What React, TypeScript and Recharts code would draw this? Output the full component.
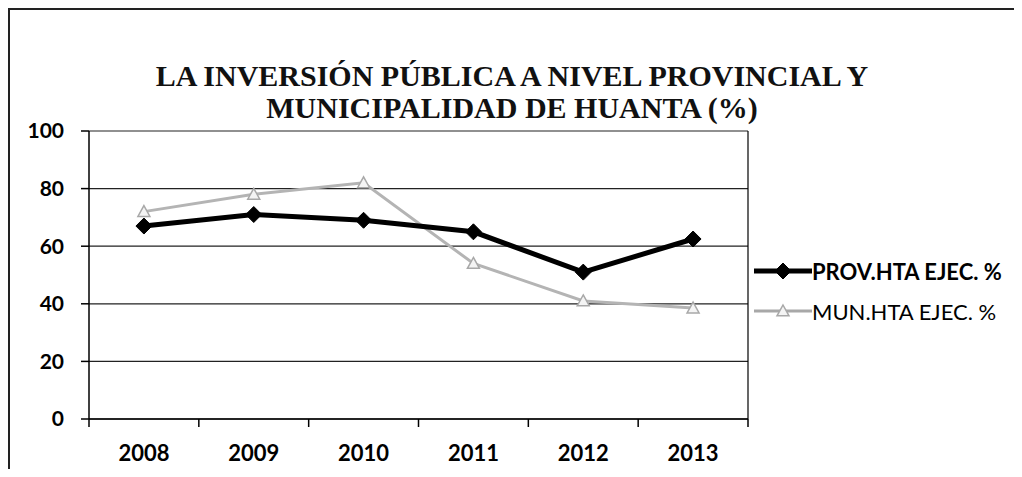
import React from "react";
import { LineChart, Line, XAxis, YAxis, CartesianGrid, Legend, ReferenceLine } from "recharts";

const years = ["2008", "2009", "2010", "2011", "2012", "2013"];
const provEjec = [67, 71, 69, 65, 51, 62.5];
const munEjec = [72, 78, 82, 54, 41, 38.5];
const yTicks = [0, 20, 40, 60, 80, 100];

const PROV_NAME = "PROV.HTA EJEC. %";
const MUN_NAME = "MUN.HTA EJEC. %";

const data = years.map((year, i) => ({
  pos: i + 0.5,
  year,
  prov: provEjec[i],
  mun: munEjec[i],
}));

// Excel draws the category ticks between the years, so one axis carries the
// boundary ticks and a second one carries the year labels at the centres.
const boundaryTicks = [...years.map((_, i) => i), years.length];
const labelTicks = years.map((_, i) => i + 0.5);

const TICK_AXIS = "a_tk";
const LABEL_AXIS = "z_lab";

const axisFont = { fontFamily: "Lato, 'Open Sans', sans-serif", fontSize: 21, fontWeight: 700, fill: "#000" };

function Diamond(props: any) {
  const { cx, cy } = props;
  if (cx == null || cy == null) return null;
  const r = 8;
  return <path d={`M${cx},${cy - r} L${cx + r},${cy} L${cx},${cy + r} L${cx - r},${cy} Z`} fill="#000" stroke="#000" />;
}

function Triangle(props: any) {
  const { cx, cy } = props;
  if (cx == null || cy == null) return null;
  const r = 6;
  return (
    <path
      d={`M${cx},${cy - r} L${cx + r},${cy + r * 0.8} L${cx - r},${cy + r * 0.8} Z`}
      fill="#f4f4f4"
      stroke="#a8a8a8"
      strokeWidth={1.5}
    />
  );
}

function LegendContent() {
  return (
    <div style={{ display: "flex", flexDirection: "column", gap: 12 }}>
      <div style={{ display: "flex", alignItems: "center", height: 28 }}>
        <svg width={58} height={20}>
          <line x1={0} y1={10} x2={58} y2={10} stroke="#000" strokeWidth={5} />
          <Diamond cx={29} cy={10} />
        </svg>
        <span style={{ ...axisFont, color: "#000", fontSize: 22 }}>{PROV_NAME}</span>
      </div>
      <div style={{ display: "flex", alignItems: "center", height: 28 }}>
        <svg width={58} height={20}>
          <line x1={0} y1={10} x2={58} y2={10} stroke="#a8a8a8" strokeWidth={3} />
          <Triangle cx={29} cy={10} />
        </svg>
        <span style={{ ...axisFont, color: "#000", fontSize: 22, fontWeight: 400 }}>{MUN_NAME}</span>
      </div>
    </div>
  );
}

export default function App() {
  return (
    <div
      style={{
        position: "relative",
        width: 1006,
        height: 461,
        boxSizing: "border-box",
        borderTop: "2px solid #222",
        borderLeft: "2px solid #222",
        background: "#fff",
      }}
    >
      <div
        style={{
          position: "absolute",
          top: 50,
          left: 0,
          width: 1004,
          textAlign: "center",
          fontFamily: "'Liberation Serif', 'DejaVu Serif', serif",
          fontWeight: 700,
          fontSize: 30,
          lineHeight: "32px",
          color: "#111",
        }}
      >
        LA INVERSIÓN PÚBLICA A NIVEL PROVINCIAL Y
        <br />
        MUNICIPALIDAD DE HUANTA (%)
      </div>
      <LineChart width={1004} height={459} data={data} margin={{ top: 121, right: 11, bottom: 0, left: 19 }}>
        <CartesianGrid xAxisId={TICK_AXIS} vertical={false} stroke="#222" strokeWidth={1.2} />
        <XAxis
          xAxisId={LABEL_AXIS}
          dataKey="pos"
          type="number"
          domain={[0, years.length]}
          ticks={labelTicks}
          tickFormatter={(v: number) => years[Math.floor(v)]}
          axisLine={false}
          tickLine={false}
          tickSize={0}
          tickMargin={16}
          height={40}
          tick={{ ...axisFont, fontSize: 22 }}
        />
        <XAxis
          xAxisId={TICK_AXIS}
          dataKey="pos"
          type="number"
          domain={[0, years.length]}
          ticks={boundaryTicks}
          tickFormatter={() => ""}
          tickSize={8}
          height={10}
          axisLine={{ stroke: "#000", strokeWidth: 1.5 }}
          tickLine={{ stroke: "#000", strokeWidth: 1.5 }}
        />
        <YAxis
          domain={[0, 100]}
          ticks={yTicks}
          width={60}
          tickSize={8}
          tickMargin={17}
          axisLine={{ stroke: "#000", strokeWidth: 1.5 }}
          tickLine={{ stroke: "#000", strokeWidth: 1.5 }}
          tick={axisFont}
        />
        <ReferenceLine xAxisId={TICK_AXIS} x={years.length} stroke="#000" strokeWidth={1.2} />
        <Legend
          layout="vertical"
          align="right"
          verticalAlign="middle"
          width={255}
          wrapperStyle={{ left: 744, top: 247 }}
          content={<LegendContent />}
        />
        <Line
          xAxisId={LABEL_AXIS}
          type="linear"
          dataKey="mun"
          name={MUN_NAME}
          stroke="#b4b4b4"
          strokeWidth={3}
          dot={<Triangle />}
          isAnimationActive={false}
        />
        <Line
          xAxisId={LABEL_AXIS}
          type="linear"
          dataKey="prov"
          name={PROV_NAME}
          stroke="#000"
          strokeWidth={5}
          dot={<Diamond />}
          isAnimationActive={false}
        />
      </LineChart>
    </div>
  );
}
